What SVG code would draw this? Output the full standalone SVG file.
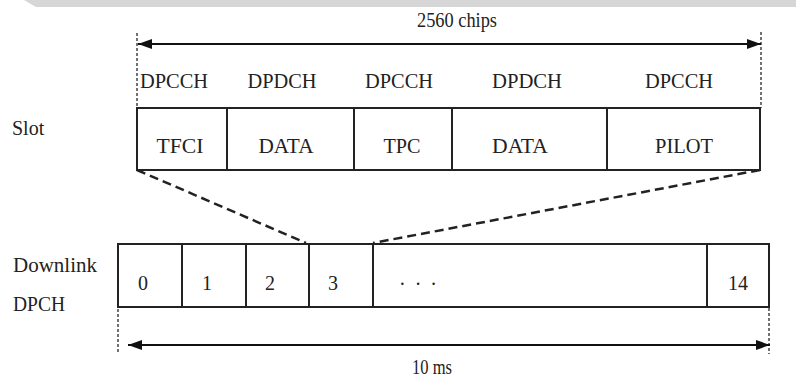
<svg xmlns="http://www.w3.org/2000/svg" width="796" height="378" viewBox="0 0 796 378" font-family="'Liberation Serif', 'Times New Roman', 'DejaVu Serif', serif">
<defs>
<style>
text{font-family:"Liberation Serif","Times New Roman","DejaVu Serif",serif}
.t{fill:#222;font-size:20px}
.c{text-anchor:middle}
.box{fill:#fff;stroke:#222;stroke-width:2}
.div{stroke:#222;stroke-width:2}
.guide{stroke:#444;stroke-width:1.5;stroke-dasharray:3 2}
.zoom{stroke:#222;stroke-width:2.5;stroke-dasharray:9 5;fill:none}
.arr{stroke:#111;stroke-width:2.2;fill:none}
</style>
<marker id="ah" viewBox="0 0 14 10" refX="14" refY="5" markerWidth="14" markerHeight="10" markerUnits="userSpaceOnUse" orient="auto-start-reverse">
<path d="M0,0 L14,5 L0,10 Z" fill="#111"/>
</marker>
</defs>
<rect width="796" height="378" fill="#fff"/>
<polygon points="24,0 796,0 796,7 36,7" fill="#d6d6d6"/>

<g id="slot-label"><text class="t" x="12" y="135">Slot</text></g>
<g id="downlink-label"><text class="t" x="13" y="272" textLength="84" lengthAdjust="spacingAndGlyphs">Downlink</text><text class="t" x="13" y="311" textLength="52" lengthAdjust="spacingAndGlyphs">DPCH</text></g>

<g id="connectors">
<line class="guide" x1="137" y1="33" x2="137" y2="108"/>
<line class="guide" x1="761" y1="32" x2="761" y2="108"/>
<line class="arr" x1="138" y1="44" x2="761" y2="44" marker-start="url(#ah)" marker-end="url(#ah)"/>
<line class="zoom" x1="137" y1="170" x2="306" y2="243"/>
<line class="zoom" x1="760" y1="170" x2="373" y2="243"/>
<line class="guide" x1="118" y1="309" x2="118" y2="354"/>
<line class="guide" x1="769" y1="308" x2="769" y2="354"/>
<line class="arr" x1="128" y1="345" x2="770" y2="345" marker-start="url(#ah)" marker-end="url(#ah)"/>
</g>

<g id="chips-label"><text class="t" x="417" y="27" font-size="14" textLength="80" lengthAdjust="spacingAndGlyphs">2560 chips</text></g>
<g id="ms-label"><text class="t" x="412" y="374" font-size="13" textLength="40" lengthAdjust="spacingAndGlyphs">10 ms</text></g>

<g id="channel-labels">
<text class="t c" x="174" y="88" textLength="68" lengthAdjust="spacingAndGlyphs">DPCCH</text>
<text class="t c" x="282" y="88" textLength="69" lengthAdjust="spacingAndGlyphs">DPDCH</text>
<text class="t c" x="399" y="88" textLength="68" lengthAdjust="spacingAndGlyphs">DPCCH</text>
<text class="t c" x="527" y="88" textLength="70" lengthAdjust="spacingAndGlyphs">DPDCH</text>
<text class="t c" x="679" y="88" textLength="68" lengthAdjust="spacingAndGlyphs">DPCCH</text>
</g>

<g id="slot">
<rect class="box" x="137" y="108" width="623" height="62"/>
<line class="div" x1="227" y1="108" x2="227" y2="170"/>
<line class="div" x1="354" y1="108" x2="354" y2="170"/>
<line class="div" x1="452" y1="108" x2="452" y2="170"/>
<line class="div" x1="607" y1="108" x2="607" y2="170"/>
<text class="t c" x="180" y="153" textLength="47" lengthAdjust="spacingAndGlyphs">TFCI</text>
<text class="t c" x="286" y="153" textLength="55" lengthAdjust="spacingAndGlyphs">DATA</text>
<text class="t c" x="402" y="153" textLength="37" lengthAdjust="spacingAndGlyphs">TPC</text>
<text class="t c" x="520" y="153" textLength="56" lengthAdjust="spacingAndGlyphs">DATA</text>
<text class="t c" x="684" y="153" textLength="58" lengthAdjust="spacingAndGlyphs">PILOT</text>
</g>

<g id="dpch">
<rect class="box" x="118" y="244" width="651" height="63"/>
<line class="div" x1="182" y1="244" x2="182" y2="307"/>
<line class="div" x1="246" y1="244" x2="246" y2="307"/>
<line class="div" x1="309" y1="244" x2="309" y2="307"/>
<line class="div" x1="373" y1="244" x2="373" y2="307"/>
<line class="div" x1="707" y1="244" x2="707" y2="307"/>
<text class="t c" x="143" y="290">0</text>
<text class="t c" x="207" y="290">1</text>
<text class="t c" x="270" y="290">2</text>
<text class="t c" x="333" y="290">3</text>
<text class="t" x="399" y="291" letter-spacing="2">· · ·</text>
<text class="t c" x="738" y="290">14</text>
</g>
</svg>
